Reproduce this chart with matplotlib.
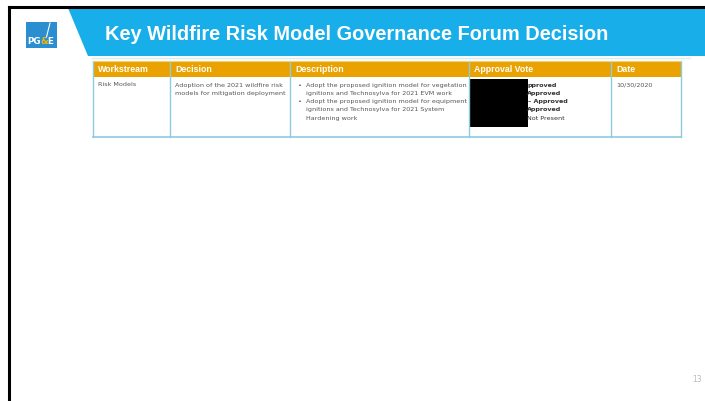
import matplotlib.pyplot as plt
from matplotlib.patches import Rectangle, Polygon

# slide content
title = "Key Wildfire Risk Model Governance Forum Decision"
headers = ["Workstream", "Decision", "Description", "Approval Vote", "Date"]
col_edges = [93, 170, 290, 469, 611, 681]
workstream = ["Risk Models"]
decision = ["Adoption of the 2021 wildfire risk", "models for mitigation deployment"]
description = [
    ["Adopt the proposed ignition model for vegetation", "ignitions and Technosylva for 2021 EVM work"],
    ["Adopt the proposed ignition model for equipment", "ignitions and Technosylva for 2021 System", "Hardening work"],
]
votes = ["pproved", "Approved", "\u2013 Approved", "Approved", "Not Present"]
date = ["10/30/2020"]
page_no = "13"

W, H = 705, 401
fig = plt.figure(figsize=(W / 100, H / 100), dpi=100)
ax = fig.add_axes([0, 0, 1, 1])
ax.set_xlim(0, W)
ax.set_ylim(H, 0)
ax.axis("off")

# slide frame
ax.plot([8.5, W], [6.5, 6.5], color="black", lw=2.2)
ax.plot([8.5, 8.5], [6.5, H], color="black", lw=2.2)

# banner
blue = "#18AEEA"
ax.add_patch(Polygon([[68, 8], [W, 8], [W, 56], [88, 56]], closed=True, color=blue, lw=0))
ax.plot([92, 690], [57.5, 57.5], color="#D6EEF8", lw=1)
ax.text(105, 35, title, color="white", fontsize=14.4, fontweight="bold",
        family="Liberation Sans", va="center", ha="left")

# logo
ax.add_patch(Rectangle((26, 22), 31, 26, color="#2A8ED0", lw=0))
ax.plot([50, 46.5], [23, 37], color="white", lw=0.8)
ax.text(40.5, 42, "PG", color="white", fontsize=6.3, fontweight="bold", ha="right", va="center",
        family="Liberation Sans Narrow")
ax.text(44, 42, "&", color="#F5B800", fontsize=6.3, fontweight="bold", ha="center", va="center",
        family="Liberation Sans Narrow")
ax.text(47, 42, "E", color="white", fontsize=6.3, fontweight="bold", ha="left", va="center",
        family="Liberation Sans Narrow")

# table
orange = "#E9A200"
border = "#8CCBE0"
top, head_bot, row_bot = 61, 77, 137
ax.add_patch(Rectangle((col_edges[0], top), col_edges[-1] - col_edges[0], head_bot - top,
                       color=orange, lw=0))
for x in col_edges:
    ax.plot([x, x], [top, row_bot], color=border, lw=1)
ax.plot([col_edges[0], col_edges[-1]], [row_bot, row_bot], color=border, lw=1.2)
ax.plot([col_edges[0], col_edges[-1]], [top, top], color="#F3D27A", lw=0.8)
for i, h in enumerate(headers):
    ax.text(col_edges[i] + 5, (top + head_bot) / 2 + 0.5, h, color="white", fontsize=6.3,
            fontweight="bold", va="center", ha="left", family="Liberation Sans")

fs = 4.6
lh = 8.3
y0 = 85
tc = "#555555"
ax.text(col_edges[0] + 5, y0, workstream[0], fontsize=fs, color=tc, va="center")
for k, line in enumerate(decision):
    ax.text(col_edges[1] + 5, y0 + k * lh, line, fontsize=fs, color=tc, va="center")
n = 0
for item in description:
    ax.text(col_edges[2] + 8, y0 + n * lh, "\u2022", fontsize=fs, color=tc, va="center")
    for line in item:
        ax.text(col_edges[2] + 16, y0 + n * lh, line, fontsize=fs, color=tc, va="center")
        n += 1
ax.add_patch(Rectangle((469.5, 79), 58, 48, color="black", lw=0))
vx = [527, 527, 528, 527, 527]
for k, v in enumerate(votes):
    ax.text(vx[k], y0 + k * lh, v, fontsize=fs, color="#333333", va="center",
            fontweight="bold" if k < 4 else "normal")
ax.text(col_edges[4] + 5, y0, date[0], fontsize=fs, color=tc, va="center")

ax.text(697, 379, page_no, fontsize=5.5, color="#BBBBBB", ha="center", va="center")

fig.savefig("out.png", dpi=100)
